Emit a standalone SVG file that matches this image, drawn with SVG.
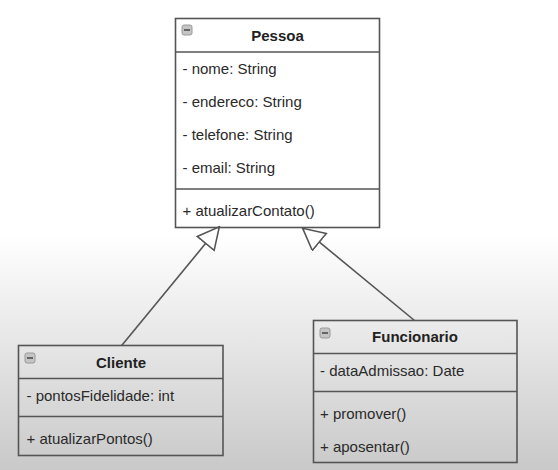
<svg xmlns="http://www.w3.org/2000/svg" width="558" height="470" viewBox="0 0 558 470">
  <defs>
    <linearGradient id="bg" x1="0" y1="0" x2="0" y2="1">
      <stop offset="0" stop-color="#ffffff"/>
      <stop offset="0.5" stop-color="#ffffff"/>
      <stop offset="0.62" stop-color="#f2f2f2"/>
      <stop offset="1" stop-color="#c9c9c9"/>
    </linearGradient>
    <marker id="inh" viewBox="0 0 24 24" refX="22.5" refY="11.5" markerWidth="24" markerHeight="24" markerUnits="userSpaceOnUse" orient="auto">
      <path d="M1,0.5 L22.5,11.5 L1,22.5 Z" fill="#ffffff" stroke="#555555" stroke-width="1.6" stroke-linejoin="miter"/>
    </marker>
    <g id="icon">
      <rect x="0" y="0" width="10" height="10" rx="2" fill="#c4c4c4" stroke="#9a9a9a" stroke-width="1"/>
      <line x1="2" y1="5" x2="8" y2="5" stroke="#444444" stroke-width="1.5"/>
    </g>
  </defs>
  <style>
    .box { fill: none; stroke: #555555; stroke-width: 1.6; }
    .sep { stroke: #555555; stroke-width: 1.6; }
    .title { font-family: "Liberation Sans", Arial, sans-serif; font-size: 15px; font-weight: bold; fill: #222222; text-anchor: middle; }
    .item { font-family: "Liberation Sans", Arial, sans-serif; font-size: 15px; fill: #2a2a2a; }
    .conn { stroke: #555555; stroke-width: 1.6; fill: none; }
  </style>
  <rect x="0" y="0" width="558" height="470" fill="url(#bg)"/>

  <g id="connectors">
    <line class="conn" x1="121.7" y1="345.5" x2="219.3" y2="226.8" marker-end="url(#inh)"/>
    <line class="conn" x1="414.5" y1="320.5" x2="302.7" y2="228.3" marker-end="url(#inh)"/>
  </g>

  <g id="Pessoa">
    <rect class="box" x="175.5" y="18.5" width="204" height="209"/>
    <line class="sep" x1="175.5" y1="52" x2="379.5" y2="52"/>
    <line class="sep" x1="175.5" y1="189" x2="379.5" y2="189"/>
    <use href="#icon" x="182" y="25"/>
    <text class="title" x="277.5" y="40.5">Pessoa</text>
    <text class="item" x="182.5" y="73.5">- nome: String</text>
    <text class="item" x="182.5" y="107">- endereco: String</text>
    <text class="item" x="182.5" y="140">- telefone: String</text>
    <text class="item" x="182.5" y="172.5">- email: String</text>
    <text class="item" x="182.5" y="216">+ atualizarContato()</text>
  </g>

  <g id="Cliente">
    <rect class="box" x="18.5" y="345.5" width="204.5" height="110"/>
    <line class="sep" x1="18.5" y1="378.5" x2="223" y2="378.5"/>
    <line class="sep" x1="18.5" y1="416.5" x2="223" y2="416.5"/>
    <use href="#icon" x="25" y="353"/>
    <text class="title" x="121" y="367.5">Cliente</text>
    <text class="item" x="26.5" y="401">- pontosFidelidade: int</text>
    <text class="item" x="26.5" y="444">+ atualizarPontos()</text>
  </g>

  <g id="Funcionario">
    <rect class="box" x="313.5" y="320.5" width="203.5" height="142"/>
    <line class="sep" x1="313.5" y1="353.5" x2="517" y2="353.5"/>
    <line class="sep" x1="313.5" y1="391.5" x2="517" y2="391.5"/>
    <use href="#icon" x="320" y="328"/>
    <text class="title" x="415" y="342">Funcionario</text>
    <text class="item" x="320" y="375.5">- dataAdmissao: Date</text>
    <text class="item" x="320" y="419">+ promover()</text>
    <text class="item" x="320" y="452">+ aposentar()</text>
  </g>
</svg>
